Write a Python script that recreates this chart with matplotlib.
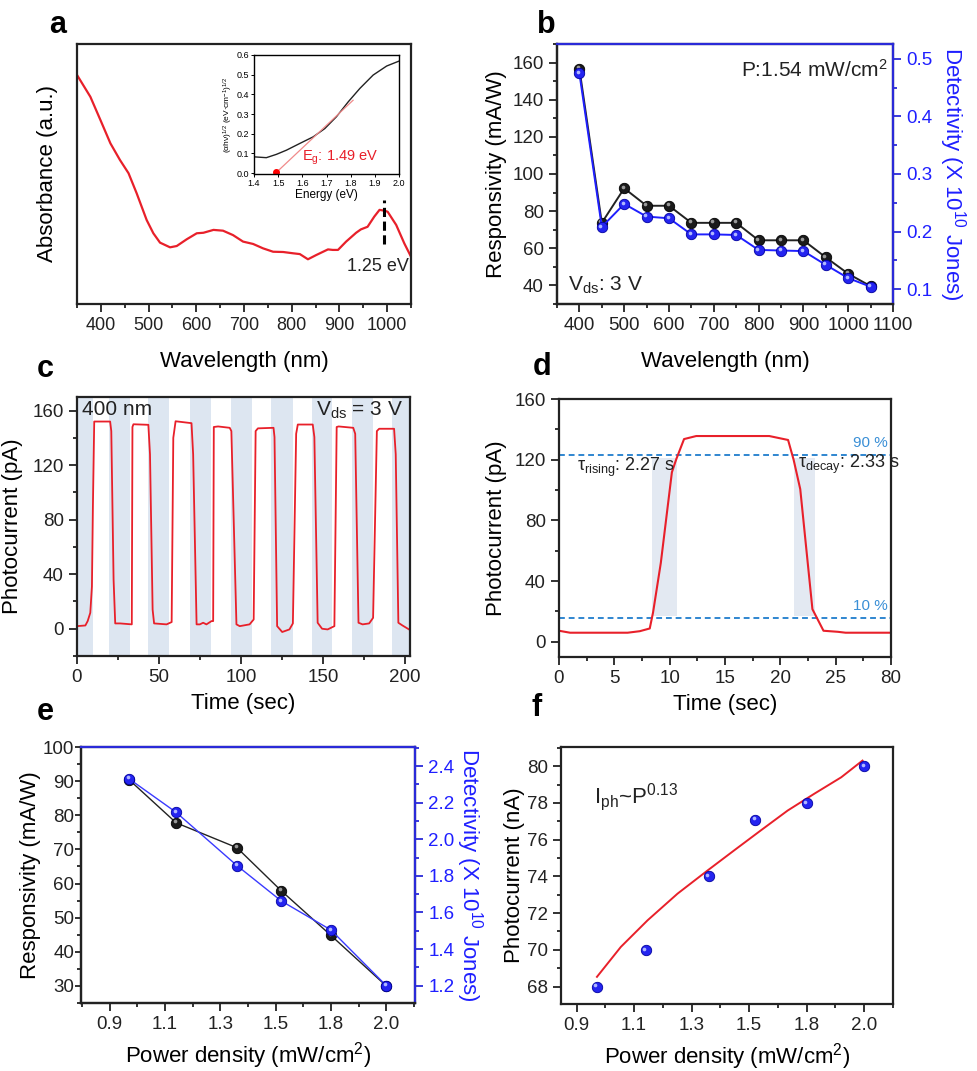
import numpy as np
import matplotlib.pyplot as plt
from matplotlib.ticker import MultipleLocator
from matplotlib.transforms import ScaledTranslation

plt.rcParams["font.family"] = ["Liberation Sans", "DejaVu Sans"]
plt.rcParams["mathtext.default"] = "regular"

W, H = 977, 1071

# ---- panel a: absorbance spectrum (a.u.) ----
wl_abs = [350, 378, 399, 420, 440, 458, 475, 496, 510, 524, 545, 559, 580, 601,
          615, 636, 656, 677, 698, 719, 740, 761, 782, 803, 817, 834, 851, 876,
          886, 897, 914, 935, 945, 959, 973, 984, 994, 1001, 1019, 1036, 1050]
abs_val = [0.881, 0.797, 0.708, 0.618, 0.554, 0.503, 0.426, 0.323, 0.272, 0.236,
           0.218, 0.223, 0.249, 0.272, 0.274, 0.285, 0.282, 0.265, 0.240, 0.231,
           0.214, 0.201, 0.200, 0.195, 0.192, 0.172, 0.188, 0.210, 0.208, 0.208,
           0.240, 0.274, 0.287, 0.297, 0.336, 0.362, 0.359, 0.355, 0.304, 0.233,
           0.182]
# inset: Tauc plot
energy = [1.403, 1.451, 1.493, 1.534, 1.589, 1.645, 1.693, 1.741, 1.79, 1.838,
          1.893, 1.949, 2.0]
tauc = [0.082, 0.078, 0.095, 0.116, 0.150, 0.184, 0.226, 0.286, 0.362, 0.430,
        0.498, 0.544, 0.569]
tangent_e = [1.49, 1.81]
tangent_v = [0.0, 0.37]

# ---- panel b ----
wl_b = [400, 450, 500, 550, 600, 650, 700, 750, 800, 850, 900, 950, 1000, 1050]
resp_b = [156.7, 73.7, 92.3, 82.9, 82.9, 73.7, 73.7, 73.7, 64.3, 64.3, 64.3,
          55.1, 46.3, 39.6]
det_b = [0.475, 0.208, 0.248, 0.226, 0.223, 0.195, 0.195, 0.194, 0.168, 0.167,
         0.166, 0.142, 0.119, 0.104]

# ---- panel c: on/off cycles ----
t_c = [0, 5.1, 6.5, 8.1, 9.1, 9.7, 10.5, 20.2, 20.9, 22.3, 23.3, 26.3, 33.4,
       33.8, 34.4, 43.5, 44.5, 46.1, 47.0, 54.6, 57.7, 58.7, 60.1, 69.8, 70.8,
       72.9, 74.9, 76.9, 78.9, 82.0, 83.0, 83.4, 86.0, 93.1, 94.1, 97.2, 99.2,
       105.2, 107.7, 108.9, 110.3, 119.8, 120.4, 122.0, 125.1, 129.5, 131.6,
       133.6, 134.6, 143.7, 144.7, 146.7, 149.4, 152.8, 156.9, 158.3, 159.5,
       168.4, 169.6, 171.6, 174.1, 178.1, 180.5, 182.8, 184.2, 193.3, 194.3,
       195.9, 198.4, 202.4]
i_c = [1.9, 2.4, 5.6, 11.7, 31, 90, 152, 152, 145, 36, 3.9, 3.9, 3.2, 148,
       150, 149.6, 128, 14, 3.9, 3.2, 4.9, 140, 152.2, 150.8, 128, 3.2, 3.2,
       4.4, 3.2, 5.6, 5.6, 148, 148.4, 147.4, 145, 3.2, 1.9, 3.2, 6.8, 145, 147,
       147.4, 140.6, 1.9, -2.4, -0.5, 3.9, 143, 149.8, 149.8, 140.6, 4.4, 0,
       -0.5, 1.9, 148, 148.4, 147.4, 143, 4.4, 3.2, 3.9, 8, 145, 146.7, 146.7,
       128, 4.4, 2.4, -0.5]
band_start = [0, 19.6, 43.3, 69.1, 93.6, 118.3, 143.2, 167.9, 192.2]
band_end = [9.9, 32.2, 56.1, 81.8, 106.5, 131.4, 155.7, 180.4, 205]

# ---- panel d: single pulse ----
t_d = [0, 1, 6.2, 7.3, 8.2, 8.5, 9.2, 10.2, 10.6, 11.3, 12.4, 19.0, 20.7,
       21.2, 21.8, 22.9, 23.9, 25.2, 25.9, 30]
i_d = [7.3, 6.0, 6.0, 7.0, 8.8, 19.4, 52, 111.7, 120.4, 133.6, 135.6, 135.6,
       133, 120, 100.6, 21.5, 7.3, 6.6, 6.0, 6.0]
d_ticklabels = ["0", "5", "10", "15", "20", "25", "80"]
level_90, level_10 = 123, 16

# ---- panels e, f: power dependence ----
pd_ticks = [0.9, 1.1, 1.3, 1.5, 1.8, 2.0]
power = [0.97, 1.14, 1.36, 1.53, 1.8, 2.0]
resp_e = [90.4, 77.8, 70.5, 57.9, 44.8, 30.0]
det_e = [2.33, 2.147, 1.856, 1.663, 1.504, 1.2]
iph_f = [68.0, 69.98, 74.0, 77.1, 78.0, 80.0]
fit_p = [0.971, 1.054, 1.147, 1.251, 1.356, 1.448, 1.56, 1.701, 1.826, 1.92,
         1.994]
fit_i = [68.53, 70.16, 71.61, 73.06, 74.33, 75.42, 76.5, 77.59, 78.5, 79.4,
         80.31]

RED = "#e8202a"
BLUE = "#1f1fff"
SPINE_BLUE = "#2a2ad8"
DARK = "#222222"

fig = plt.figure(figsize=(W / 100, H / 100), dpi=100)


def px_axes(x0, y0, x1, y1):
    return fig.add_axes([x0 / W, 1 - y1 / H, (x1 - x0) / W, (y1 - y0) / H])


def style(ax, size=13.5):
    for s in ax.spines.values():
        s.set_linewidth(1.6)
        s.set_color(DARK)
    ax.tick_params(which="both", direction="out", labelsize=size, width=1.3,
                   color=DARK, labelcolor=DARK)
    ax.tick_params(which="major", length=6)
    ax.tick_params(which="minor", length=3)


def balls(ax, x, y, color, edge, light, ms=7.5):
    ax.plot(x, y, "o", ms=ms, mfc=color, mec=edge, mew=0.6, zorder=4)
    off = ScaledTranslation(-1.0 / 72, 1.0 / 72, fig.dpi_scale_trans)
    ax.plot(x, y, "o", ms=ms * 0.35, mfc=light, mec="none", zorder=5,
            transform=ax.transData + off)


def to_pos(p):
    return np.interp(p, pd_ticks, np.arange(len(pd_ticks)))


# ================= a =================
ax = px_axes(77, 44, 411, 304)
style(ax, 13)
ax.plot(wl_abs, abs_val, color=RED, lw=1.6)
ax.set_xlim(350, 1050)
ax.set_ylim(0, 1)
ax.set_yticks([])
ax.xaxis.set_major_locator(MultipleLocator(100))
ax.xaxis.set_minor_locator(MultipleLocator(50))
ax.set_xlabel("Wavelength (nm)", fontsize=16, labelpad=12)
ax.set_ylabel("Absorbance (a.u.)", fontsize=16, labelpad=14)
ax.plot([993, 993], [0.232, 0.40], color="black", lw=2.2, ls=(0, (3, 1.5)))
ax.text(980, 0.145, "1.25 eV", fontsize=13, ha="center", va="center",
        color=DARK)

ins = px_axes(254, 55, 399, 174)
for s in ins.spines.values():
    s.set_linewidth(1.0)
ins.tick_params(labelsize=6.5, length=2, width=0.7, pad=1.5)
ins.plot(energy, tauc, color="#222222", lw=1.0)
ins.plot(tangent_e, tangent_v, color="#f08a8a", lw=0.9)
ins.plot([1.49], [0.005], "o", color="red", ms=4)
ins.set_xlim(1.4, 2.0)
ins.set_ylim(-0.005, 0.6)
ins.set_xticks(np.arange(1.4, 2.01, 0.1))
ins.set_yticks(np.arange(0, 0.61, 0.1))
ins.xaxis.set_major_formatter(lambda v, p: f"{v:.1f}")
ins.yaxis.set_major_formatter(lambda v, p: f"{v:.1f}")
ins.set_xlabel("Energy (eV)", fontsize=8.5, labelpad=1)
ins.set_ylabel(r"$(\alpha h\nu)^{1/2}$ (eV$\cdot$cm$^{-1}$)$^{1/2}$",
               fontsize=6, labelpad=1)
ins.text(1.60, 0.075, r"E$_g$: 1.49 eV", color=RED, fontsize=10.5,
         ha="left", va="center")

# ================= b =================
ax = px_axes(557, 44, 893, 304)
style(ax)
ax.plot(wl_b, resp_b, color=DARK, lw=1.4, zorder=2)
balls(ax, wl_b, resp_b, "#1b1b1b", "black", "#9a9a9a")
ax.set_xlim(350, 1100)
ax.set_ylim(30, 170)
ax.xaxis.set_major_locator(MultipleLocator(100))
ax.xaxis.set_minor_locator(MultipleLocator(50))
ax.yaxis.set_major_locator(MultipleLocator(20))
ax.yaxis.set_minor_locator(MultipleLocator(10))
ax.set_xlabel("Wavelength (nm)", fontsize=16, labelpad=12)
ax.set_ylabel("Responsivity (mA/W)", fontsize=16, labelpad=4)
ax.text(0.982, 0.9, "P:1.54 mW/cm$^2$", transform=ax.transAxes, fontsize=15,
        ha="right", va="center", color=DARK)
ax.text(0.033, 0.073, "V$_{ds}$: 3 V", transform=ax.transAxes, fontsize=15,
        ha="left", va="center", color=DARK)
ax2 = ax.twinx()
style(ax2)
ax2.plot(wl_b, det_b, color=BLUE, lw=1.4, zorder=2)
balls(ax2, wl_b, det_b, "#2424f0", "#0000a0", "#b0b8ff")
ax2.set_ylim(0.074, 0.526)
ax2.yaxis.set_major_locator(MultipleLocator(0.1))
ax2.yaxis.set_minor_locator(MultipleLocator(0.05))
ax2.yaxis.set_major_formatter(lambda v, p: f"{v:.1f}")
ax2.spines["right"].set_color(SPINE_BLUE)
ax2.spines["top"].set_color(SPINE_BLUE)
ax2.tick_params(axis="y", which="both", colors=SPINE_BLUE, labelcolor=BLUE)
ax2.set_ylabel("Detectivity (X 10$^{10}$ Jones)", fontsize=16, color=BLUE,
               rotation=270, va="bottom", labelpad=3)

# ================= c =================
ax = px_axes(77, 397, 410, 656)
style(ax)
for s0, s1 in zip(band_start, band_end):
    ax.axvspan(s0, s1, color="#dde6f1", lw=0, zorder=0)
ax.plot(t_c, i_c, color=RED, lw=1.3)
ax.set_xlim(0, 203)
ax.set_ylim(-20, 170)
ax.xaxis.set_major_locator(MultipleLocator(50))
ax.xaxis.set_minor_locator(MultipleLocator(25))
ax.yaxis.set_major_locator(MultipleLocator(40))
ax.yaxis.set_minor_locator(MultipleLocator(20))
ax.set_xlabel("Time (sec)", fontsize=16, labelpad=5)
ax.set_ylabel("Photocurrent (pA)", fontsize=16, labelpad=7)
ax.text(0.014, 0.95, "400 nm", transform=ax.transAxes, fontsize=15,
        ha="left", va="center", color=DARK)
ax.text(0.98, 0.95, "V$_{ds}$ = 3 V", transform=ax.transAxes, fontsize=15,
        ha="right", va="center", color=DARK)

# ================= d =================
ax = px_axes(559, 399, 891, 657)
style(ax)
ax.fill_between([8.4, 10.7], level_10 + 1, level_90 - 2, color="#e3e9f2",
                lw=0, zorder=0)
ax.fill_between([21.2, 23.1], level_10 + 1, level_90 - 2, color="#e3e9f2",
                lw=0, zorder=0)
ax.axhline(level_90, color="#2f86d0", lw=1.4, ls=(0, (3, 2)))
ax.axhline(level_10, color="#2f86d0", lw=1.4, ls=(0, (3, 2)))
ax.plot(t_d, i_d, color=RED, lw=1.5)
ax.set_xlim(0, 30)
ax.set_ylim(-10, 160)
ax.set_xticks(np.arange(0, 31, 5), d_ticklabels)
ax.xaxis.set_minor_locator(MultipleLocator(2.5))
ax.yaxis.set_major_locator(MultipleLocator(40))
ax.yaxis.set_minor_locator(MultipleLocator(20))
ax.set_xlabel("Time (sec)", fontsize=16, labelpad=5)
ax.set_ylabel("Photocurrent (pA)", fontsize=16, labelpad=5)
ax.text(29.7, 131, "90 %", color="#3a8fd6", fontsize=11, ha="right",
        va="center")
ax.text(29.7, 23.3, "10 %", color="#3a8fd6", fontsize=11, ha="right",
        va="center")
ax.text(1.6, 115, r"$\tau_{rising}$: 2.27 s", fontsize=13, ha="left",
        va="center", color=DARK)
ax.text(21.6, 117, r"$\tau_{decay}$: 2.33 s", fontsize=13, ha="left",
        va="center", color=DARK)

# ================= e =================
ax = px_axes(81, 747, 415, 1003)
style(ax)
ax.tick_params(axis="y", which="major", length=4, pad=1)
xe = to_pos(power)
ax.plot(xe, resp_e, color=DARK, lw=1.0, zorder=2)
balls(ax, xe, resp_e, "#1b1b1b", "black", "#9a9a9a")
ax.set_xlim(-0.52, 5.52)
ax.set_ylim(25, 100)
ax.set_xticks(np.arange(6), [f"{v:.1f}" for v in pd_ticks])
ax.xaxis.set_minor_locator(MultipleLocator(0.5))
ax.yaxis.set_major_locator(MultipleLocator(10))
ax.yaxis.set_minor_locator(MultipleLocator(5))
ax.set_xlabel("Power density (mW/cm$^2$)", fontsize=16, labelpad=5)
ax.set_ylabel("Responsivity (mA/W)", fontsize=16, labelpad=1)
ax2 = ax.twinx()
style(ax2)
ax2.plot(xe, det_e, color="#3a3aff", lw=1.0, zorder=2)
balls(ax2, xe, det_e, "#2424f0", "#0000a0", "#b0b8ff")
ax2.set_ylim(1.105, 2.504)
ax2.yaxis.set_major_locator(MultipleLocator(0.2))
ax2.yaxis.set_minor_locator(MultipleLocator(0.1))
ax2.yaxis.set_major_formatter(lambda v, p: f"{v:.1f}")
ax2.spines["right"].set_color(SPINE_BLUE)
ax2.spines["top"].set_color(SPINE_BLUE)
ax2.tick_params(axis="y", which="both", colors=SPINE_BLUE, labelcolor=BLUE)
ax2.set_ylabel("Detectivity (X 10$^{10}$ Jones)", fontsize=16, color=BLUE,
               rotation=270, va="bottom", labelpad=0)

# ================= f =================
ax = px_axes(561, 747, 893, 1004)
style(ax)
ax.plot(to_pos(fit_p), fit_i, color=RED, lw=1.4, zorder=2)
balls(ax, to_pos(power), iph_f, "#2424f0", "#0000a0", "#b0b8ff")
ax.set_xlim(-0.27, 5.5)
ax.set_ylim(67.05, 81.05)
ax.set_xticks(np.arange(6), [f"{v:.1f}" for v in pd_ticks])
ax.xaxis.set_minor_locator(MultipleLocator(0.5))
ax.yaxis.set_major_locator(MultipleLocator(2))
ax.yaxis.set_minor_locator(MultipleLocator(1))
ax.set_xlabel("Power density (mW/cm$^2$)", fontsize=16, labelpad=5)
ax.set_ylabel("Photocurrent (nA)", fontsize=16, labelpad=1)
ax.text(0.10, 0.807, "I$_{ph}$~P$^{0.13}$", transform=ax.transAxes,
        fontsize=16, ha="left", va="center", color=DARK)

# panel letters
for lab, x, y in [("a", 58, 25), ("b", 546, 25), ("c", 45, 369),
                  ("d", 542, 367), ("e", 45, 712), ("f", 537, 708)]:
    fig.text(x / W, 1 - y / H, lab, fontsize=22, fontweight="bold",
             ha="center", va="center")

fig.savefig("out.png", dpi=100)
